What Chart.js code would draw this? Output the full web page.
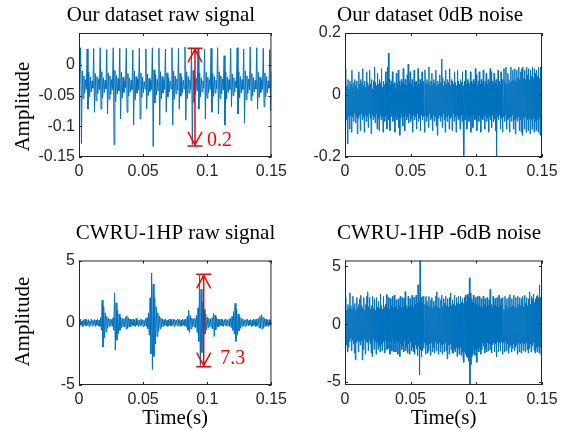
<!DOCTYPE html>
<html>
<head>
<meta charset="utf-8">
<script src="https://cdn.jsdelivr.net/npm/chart.js@4.4.1/dist/chart.umd.min.js"></script>
<style>
  body { margin: 0; background: #fff; }
  #wrap { position: relative; width: 574px; height: 430px; overflow: hidden; }
  canvas { position: absolute; }
</style>
</head>
<body>
<div id="wrap">
  <canvas id="c1" width="292" height="200" style="left:0;top:0"></canvas>
  <canvas id="c2" width="282" height="200" style="left:292px;top:0"></canvas>
  <canvas id="c3" width="292" height="215" style="left:0;top:215px"></canvas>
  <canvas id="c4" width="282" height="215" style="left:292px;top:215px"></canvas>
</div>
<script>
// ---- data ----
const timeSpan = 0.15;
const xTicks = [0, 0.05, 0.1, 0.15];
const ourRawTicks = [-0.15, -0.1, -0.05, 0];
const ourNoiseTicks = [-0.2, 0, 0.2];
const cwruTicks = [-5, 0, 5];

// our dataset, raw signal (impulse every ~5 ms)
const ourRaw = [
  -0.030, -0.020,
  0.028, -0.128, -0.010, -0.055, -0.018, -0.046, -0.024, -0.040,
  0.026, -0.072, -0.012, -0.052, -0.020, -0.044, -0.026, -0.038,
  0.027, -0.077, -0.014, -0.058, -0.019, -0.047, -0.023, -0.041,
  0.028, -0.072, -0.011, -0.053, -0.021, -0.045, -0.025, -0.039,
  0.025, -0.080, -0.013, -0.056, -0.018, -0.048, -0.024, -0.040,
  0.028, -0.130, -0.009, -0.060, -0.017, -0.047, -0.022, -0.042,
  0.027, -0.088, -0.012, -0.054, -0.020, -0.045, -0.026, -0.038,
  0.027, -0.077, -0.014, -0.051, -0.021, -0.044, -0.025, -0.040,
  0.024, -0.098, -0.010, -0.057, -0.019, -0.046, -0.023, -0.041,
  0.027, -0.088, -0.013, -0.053, -0.020, -0.045, -0.027, -0.039,
  0.026, -0.072, -0.015, -0.050, -0.022, -0.043, -0.025, -0.040,
  0.028, -0.133, -0.008, -0.062, -0.016, -0.049, -0.023, -0.042,
  0.027, -0.098, -0.011, -0.055, -0.019, -0.046, -0.024, -0.040,
  0.026, -0.077, -0.013, -0.052, -0.021, -0.044, -0.026, -0.039,
  0.028, -0.098, -0.010, -0.056, -0.018, -0.047, -0.023, -0.041,
  0.027, -0.072, -0.014, -0.051, -0.020, -0.045, -0.025, -0.039,
  0.029, -0.090, -0.011, -0.055, -0.019, -0.046, -0.024, -0.040,
  0.028, -0.130, -0.009, -0.061, -0.017, -0.048, -0.022, -0.042,
  0.027, -0.072, -0.013, -0.052, -0.021, -0.044, -0.026, -0.038,
  0.026, -0.088, -0.012, -0.054, -0.020, -0.045, -0.024, -0.040,
  0.027, -0.077, -0.014, -0.051, -0.019, -0.046, -0.025, -0.039,
  0.028, -0.080, -0.011, -0.055, -0.018, -0.047, -0.023, -0.041,
  0.015, -0.098, -0.012, -0.056, -0.020, -0.045, -0.024, -0.040,
  0.027, -0.068, -0.015, -0.050, -0.021, -0.044, -0.026, -0.038,
  0.028, -0.080, -0.011, -0.054, -0.019, -0.046, -0.024, -0.040,
  0.026, -0.095, -0.010, -0.057, -0.018, -0.047, -0.023, -0.041,
  0.029, -0.058, -0.014, -0.050, -0.021, -0.044, -0.025, -0.039,
  0.028, -0.072, -0.012, -0.053, -0.020, -0.045, -0.024, -0.040,
  0.027, -0.068, -0.013, -0.052, -0.019, -0.046, -0.026, -0.038,
  0.025, -0.075, -0.012
];

// our dataset, 0 dB noise
const ourNoise = [
  0.085, -0.05, 0.04, -0.08, 0.03, -0.158, 0.05, -0.07, 0.02, -0.11,
  0.045, -0.065, 0.035, -0.12, 0.08, -0.07, 0.025, -0.085, 0.04, -0.06,
  0.05, -0.09, 0.03, -0.07, 0.045, -0.126, 0.02, -0.075, 0.075, -0.065,
  0.035, -0.115, 0.05, -0.06, 0.04, -0.08, 0.085, -0.07, 0.03, -0.12,
  0.045, -0.065, 0.025, -0.085, 0.075, -0.07, 0.04, -0.105, 0.03, -0.06,
  0.08, -0.075, 0.035, -0.125, 0.05, -0.065, 0.02, -0.08, 0.045, -0.07,
  0.09, -0.09, 0.04, -0.06, 0.03, -0.11, 0.07, -0.075, 0.035, -0.115,
  0.05, -0.065, 0.04, -0.08, 0.085, -0.07, 0.025, -0.12, 0.045, -0.06,
  0.035, -0.085, 0.075, -0.07, 0.04, -0.11, 0.09, -0.065, 0.135, -0.08,
  0.05, -0.115, 0.03, -0.07, 0.045, -0.06, 0.075, -0.085, 0.035, -0.075,
  0.04, -0.12, 0.025, -0.065, 0.07, -0.08, 0.035, -0.07, 0.08, -0.105,
  0.045, -0.13, 0.03, -0.075, 0.05, -0.06, 0.04, -0.1, 0.085, -0.07,
  0.035, -0.115, 0.05, -0.065, 0.03, -0.08, 0.065, -0.07, 0.1, -0.09,
  0.04, -0.06, 0.075, -0.085, 0.035, -0.075, 0.05, -0.12, 0.025, -0.065,
  0.08, -0.08, 0.04, -0.07, 0.045, -0.11, 0.03, -0.06, 0.085, -0.085,
  0.035, -0.075, 0.05, -0.115, 0.04, -0.065, 0.075, -0.08, 0.03, -0.07,
  0.045, -0.12, 0.08, -0.065, 0.035, -0.085, 0.05, -0.07, 0.04, -0.105,
  0.09, -0.06, 0.03, -0.08, 0.045, -0.075, 0.07, -0.115, 0.035, -0.065,
  0.05, -0.085, 0.04, -0.07, 0.08, -0.1, 0.03, -0.13, 0.045, -0.075,
  0.035, -0.065, 0.065, -0.085, 0.04, -0.07, 0.116, -0.105, 0.055, -0.06,
  0.03, -0.08, 0.045, -0.12, 0.08, -0.07, 0.035, -0.085, 0.05, -0.065,
  0.04, -0.11, 0.085, -0.075, 0.03, -0.07, 0.05, -0.115, 0.045, -0.06,
  0.035, -0.085, 0.075, -0.07, 0.04, -0.12, 0.03, -0.065, 0.08, -0.08,
  0.045, -0.075, 0.035, -0.11, 0.05, -0.065, 0.04, -0.085, 0.075, -0.07,
  0.03, -0.195, 0.045, -0.08, 0.08, -0.07, 0.035, -0.11, 0.05, -0.065,
  0.04, -0.085, 0.03, -0.075, 0.075, -0.12, 0.045, -0.07, 0.035, -0.105,
  0.05, -0.065, 0.04, -0.08, 0.085, -0.075, 0.065, -0.115, 0.03, -0.07,
  0.045, -0.085, 0.075, -0.065, 0.035, -0.12, 0.05, -0.075, 0.04, -0.08,
  0.08, -0.07, 0.03, -0.11, 0.045, -0.065, 0.07, -0.085, 0.035, -0.075,
  0.05, -0.12, 0.04, -0.07, 0.085, -0.08, 0.075, -0.105, 0.045, -0.065,
  0.035, -0.085, 0.07, -0.075, 0.04, -0.115, 0.05, -0.2, 0.03, -0.07,
  0.08, -0.08, 0.045, -0.065, 0.035, -0.11, 0.075, -0.075, 0.05, -0.12,
  0.04, -0.07, 0.085, -0.085, 0.045, -0.065, 0.09, -0.11, 0.035, -0.08,
  0.07, -0.075, 0.05, -0.12, 0.04, -0.07, 0.09, -0.085, 0.045, -0.065,
  0.08, -0.11, 0.05, -0.08, 0.085, -0.125, 0.045, -0.075, 0.08, -0.085,
  0.055, -0.07, 0.09, -0.115, 0.05, -0.08, 0.075, -0.12, 0.085, -0.13,
  0.09, -0.075, 0.055, -0.11, 0.08, -0.07, 0.05, -0.12, 0.09, -0.08,
  0.065, -0.115, 0.085, -0.075, 0.05, -0.125, 0.08, -0.08, 0.06, -0.11,
  0.09, -0.075, 0.055, -0.12, 0.085, -0.085, 0.07, -0.115, 0.08, -0.08,
  0.06, -0.12, 0.09, -0.075, 0.055, -0.13, 0.09, -0.085, 0.07, -0.14
];

// CWRU 1HP, raw signal (bursts)
const cwruRaw = [
  0.2, -0.25, 0.3, -0.2, 0.15, -0.3, 0.25, -0.15, 0.3, -0.25,
  0.2, -0.2, 0.25, -0.3, 0.15, -0.2, 0.3, -0.25, 0.2, -0.15,
  0.25, -0.3, 0.2, -0.2, 0.3, -0.25,
  0.2, -0.3, 0.4, -0.6, 1.8, -1.95, 1.3, -1.2, 0.8, -0.75, 0.5, -0.45, 0.35, -0.3,
  0.3, -0.25, 0.25, -0.3, 0.4, -0.6,
  2.4, -2.2, 1.6, -1.4, 1.0, -0.9, 0.7, -0.6, 0.45, -0.4, 0.35, -0.3,
  0.3, -0.35, 0.45, -0.5, 0.55, -0.45, 0.4, -0.35, 0.3, -0.3, 0.25, -0.2,
  0.3, -0.25, 0.2, -0.3, 0.35, -0.2, 0.25, -0.3, 0.2, -0.25,
  0.3, -0.2, 0.25, -0.3, 0.2, -0.25, 0.35, -0.3, 0.4, -0.5,
  0.8, -1.0, 2.0, -2.5, 4.0, -3.75, 3.1, -2.7, 2.0, -1.7,
  1.3, -1.1, 0.8, -0.7, 0.55, -0.5, 0.4, -0.35, 0.3, -0.3,
  0.25, -0.2, 0.3, -0.25, 0.2, -0.3, 0.25, -0.2, 0.3, -0.25,
  0.2, -0.2, 0.3, -0.3, 0.25, -0.2, 0.2, -0.25, 0.3, -0.2,
  0.25, -0.3, 0.2, -0.25, 0.3, -0.2, 0.25, -0.25, 0.3, -0.35,
  0.5, -0.6, 1.0, -0.8, 0.6, -0.5, 0.4, -0.35, 0.3, -0.3,
  0.35, -0.4, 0.6, -0.8, 1.2, -1.5,
  3.8, -3.55, 2.7, -2.4, 1.7, -1.5, 1.1, -0.9, 0.7, -0.6, 0.45, -0.4,
  0.35, -0.3, 0.3, -0.35, 0.4, -0.5,
  0.75, -1.1, 0.6, -0.55, 0.4, -0.35, 0.3, -0.3,
  0.25, -0.2, 0.3, -0.25, 0.2, -0.3, 0.25, -0.2, 0.3, -0.25,
  0.2, -0.25, 0.3, -0.3, 0.35, -0.4, 0.5, -0.6,
  0.9, -0.9, 1.55, -1.5, 1.1, -1.0, 0.7, -0.65, 0.5, -0.45, 0.35, -0.3,
  0.3, -0.25, 0.2, -0.3, 0.25, -0.2, 0.3, -0.25, 0.2, -0.2,
  0.25, -0.3, 0.2, -0.25, 0.3, -0.2, 0.25, -0.3, 0.3, -0.25, 0.35, -0.4,
  0.5, -0.45, 0.65, -0.5, 0.45, -0.4, 0.35, -0.3,
  0.3, -0.25, 0.2, -0.3, 0.25, -0.2, 0.2, -0.15
];

// CWRU 1HP, -6 dB noise
const cwruNoise = [
  1.5, -1.3, 2.3, -1.8, 1.2, -2.4, 1.7, -2.0, 1.4, -1.5,
  2.7, -1.2, 1.6, -2.3, 1.3, -1.4, 2.4, -1.7, 1.5, -2.5,
  1.8, -3.1, 1.2, -1.6, 2.3, -1.4, 1.4, -2.4, 1.7, -1.5,
  2.2, -1.8, 2.5, -1.4, 1.6, -3.1, 1.4, -2.2, 2.3, -1.3,
  1.2, -2.6, 1.7, -1.5, 2.4, -1.6, 2.8, -2.3, 1.5, -1.4,
  2.3, -1.7, 1.3, -2.5, 1.6, -2.8, 2.4, -1.3, 1.4, -2.2,
  2.2, -1.5, 1.2, -2.6, 2.3, -1.6, 1.5, -2.2, 2.0, -1.9,
  1.4, -2.4, 2.6, -1.7, 1.6, -2.3, 1.3, -1.5, 2.4, -1.6,
  1.5, -2.5, 1.7, -1.4, 2.55, -2.2, 1.4, -2.1, 2.3, -1.5,
  1.3, -2.6, 2.2, -1.5, 1.6, -2.3, 2.4, -1.3, 1.4, -2.4,
  2.5, -1.6, 1.5, -2.4, 2.1, -1.4, 1.3, -2.6, 2.2, -1.5,
  1.6, -2.8, 2.4, -1.7, 1.4, -2.2, 2.3, -1.9, 1.5, -2.4,
  2.2, -1.4, 2.8, -2.3, 1.6, -2.0, 1.4, -2.5, 2.4, -1.7,
  1.5, -2.6, 2.2, -1.5, 1.6, -2.3, 2.5, -2.0, 1.4, -2.4,
  2.3, -2.6, 1.7, -1.8, 2.5, -2.1, 1.8, -2.7, 3.4, -1.9,
  2.0, -4.4, 5.5, -2.2, 2.3, -2.8, 1.8, -2.3, 2.4, -2.1,
  2.2, -1.6, 1.7, -2.6, 2.4, -1.8, 2.0, -2.5, 1.6, -2.3,
  2.4, -1.7, 1.5, -2.7, 2.1, -1.6, 2.3, -2.4, 1.4, -2.0,
  2.0, -2.5, 1.6, -1.5, 2.4, -2.3, 2.8, -1.7, 1.5, -2.6,
  2.3, -1.6, 1.4, -2.4, 2.1, -1.8, 2.5, -2.6, 1.5, -1.7,
  2.2, -2.4, 1.8, -1.6, 2.4, -2.3, 1.6, -3.0, 2.2, -1.8,
  1.5, -2.6, 2.3, -1.7, 2.7, -2.2, 1.6, -2.5, 2.1, -2.5,
  1.7, -2.2, 2.5, -2.4, 1.6, -2.0, 2.3, -2.8, 1.8, -2.1,
  2.4, -2.6, 1.7, -2.0, 2.4, -2.7, 1.9, -2.4, 2.2, -2.9,
  1.8, -3.3, 2.3, -2.4, 2.5, -2.6, 1.9, -2.8, 2.6, -2.9,
  2.3, -3.2, 4.0, -5.26, 2.7, -3.5, 2.2, -2.8, 1.9, -2.6,
  2.5, -2.0, 1.8, -2.7, 2.3, -2.2, 1.7, -3.3, 2.4, -2.1,
  1.6, -2.4, 2.4, -2.0, 1.5, -2.6, 2.2, -2.2, 1.4, -1.6,
  2.4, -1.9, 1.7, -2.5, 2.2, -2.1, 1.5, -2.4, 2.3, -1.6,
  1.6, -2.3, 2.1, -1.7, 3.0, -2.2, 1.7, -2.5, 1.4, -1.8,
  2.4, -1.6, 1.6, -2.4, 2.2, -1.7, 1.5, -2.8, 2.3, -1.5,
  1.4, -2.4, 2.5, -1.6, 1.6, -2.3, 2.2, -1.5, 1.5, -2.6,
  2.3, -1.6, 1.3, -2.4, 2.4, -1.5, 1.6, -2.3, 2.2, -1.7,
  1.4, -2.5, 2.3, -2.0, 2.55, -1.8, 1.5, -2.4, 2.2, -2.1,
  1.6, -1.7, 2.5, -2.3, 1.5, -2.0, 2.3, -1.8, 1.4, -2.6,
  2.4, -1.6, 1.7, -2.4, 2.3, -1.7, 1.6, -2.5, 2.2, -1.6,
  2.4, -2.3, 1.5, -1.7, 2.5, -2.4, 1.8, -1.6, 2.3, -2.2,
  1.6, -2.5, 2.2, -2.1, 2.8, -1.7, 1.7, -2.4, 2.4, -1.9,
  2.2, -1.6, 2.6, -2.3, 1.9, -2.5, 2.2, -2.0, 2.4, -2.4,
  2.5, -1.9, 2.3, -2.5, 3.4, -2.0, 2.3, -2.7, 1.9, -2.6
];

// peak-to-peak markers: [time, top, bottom]
const ourRawSpan = [0.0904, 0.027, -0.132];
const cwruRawSpan = [0.0972, 3.89, -3.53];

const serif = "'Liberation Serif', 'Times New Roman', serif";
const sans = "'Liberation Sans', Arial, Helvetica, sans-serif";
const lineBlue = '#0072BD';
const axisGrey = '#262626';

function fmt(v) {
  return String(+Number(v).toFixed(3));
}

function makePanel(id, values, p) {
  const n = values.length;
  const points = values.map((v, i) => ({ x: i * timeSpan / (n - 1), y: v }));

  const decor = {
    id: 'decor',
    afterDraw(chart) {
      const { ctx, chartArea: a } = chart;
      const xs = chart.scales.x, ys = chart.scales.y;
      ctx.save();

      // axes box with inward ticks on all four sides
      ctx.strokeStyle = axisGrey;
      ctx.lineWidth = 1;
      ctx.strokeRect(a.left + 0.5, a.top + 0.5, a.width - 1, a.height - 1);
      ctx.beginPath();
      xs.ticks.forEach(t => {
        const x = Math.round(xs.getPixelForValue(t.value)) + 0.5;
        ctx.moveTo(x, a.bottom); ctx.lineTo(x, a.bottom - 3);
        ctx.moveTo(x, a.top); ctx.lineTo(x, a.top + 3);
      });
      ys.ticks.forEach(t => {
        const y = Math.round(ys.getPixelForValue(t.value)) + 0.5;
        ctx.moveTo(a.left, y); ctx.lineTo(a.left + 3, y);
        ctx.moveTo(a.right, y); ctx.lineTo(a.right - 3, y);
      });
      ctx.stroke();

      // panel title and y label
      ctx.fillStyle = '#000';
      ctx.font = '21px ' + serif;
      ctx.textAlign = 'center';
      ctx.textBaseline = 'alphabetic';
      ctx.fillText(p.title, p.titleX, p.titleY);
      if (p.ylabel) {
        ctx.save();
        ctx.translate(28.5, 106.7);
        ctx.rotate(-Math.PI / 2);
        ctx.fillText(p.ylabel, 0, 0);
        ctx.restore();
      }

      // red peak-to-peak arrow
      if (p.span) {
        const [t, hi, lo] = p.span;
        const x = xs.getPixelForValue(t);
        const y1 = ys.getPixelForValue(hi);
        const y2 = ys.getPixelForValue(lo);
        ctx.strokeStyle = '#ff0000';
        ctx.lineWidth = 1.5;
        ctx.beginPath();
        ctx.moveTo(x, y1); ctx.lineTo(x, y2);
        ctx.moveTo(x - 7.5, y1); ctx.lineTo(x + 7.5, y1);
        ctx.moveTo(x - 7.5, y2); ctx.lineTo(x + 7.5, y2);
        ctx.moveTo(x - 7, y1 + 14); ctx.lineTo(x, y1 + 1); ctx.lineTo(x + 7, y1 + 14);
        ctx.moveTo(x - 7, y2 - 14); ctx.lineTo(x, y2 - 1); ctx.lineTo(x + 7, y2 - 14);
        ctx.stroke();
        ctx.fillStyle = '#ff0000';
        ctx.font = '20px ' + serif;
        ctx.textAlign = 'left';
        ctx.fillText(p.spanLabel, x + p.spanDx, y2 + p.spanDy);
      }
      ctx.restore();
    }
  };

  return new Chart(document.getElementById(id), {
    type: 'line',
    data: {
      datasets: [{
        data: points,
        borderColor: lineBlue,
        borderWidth: 1,
        pointRadius: 0,
        fill: false,
        tension: 0
      }]
    },
    options: {
      responsive: false,
      animation: false,
      events: [],
      layout: { padding: { left: 0, top: p.top, right: p.right, bottom: 0 } },
      plugins: { legend: { display: false }, tooltip: { enabled: false } },
      scales: {
        x: {
          type: 'linear',
          min: 0,
          max: timeSpan,
          afterFit: s => { s.height = p.xh; },
          afterBuildTicks: s => { s.ticks = xTicks.map(v => ({ value: v })); },
          grid: { display: false, drawTicks: false },
          border: { display: false },
          ticks: {
            font: { family: sans, size: 16 },
            color: axisGrey,
            padding: 5,
            maxRotation: 0,
            autoSkip: false,
            callback: fmt
          },
          title: {
            display: !!p.xlabel,
            text: p.xlabel || '',
            color: '#000',
            font: { family: serif, size: 21, lineHeight: 1 },
            padding: { top: 0, bottom: 1 }
          }
        },
        y: {
          type: 'linear',
          min: p.ymin,
          max: p.ymax,
          afterFit: s => { s.width = p.yw; },
          afterBuildTicks: s => { s.ticks = p.yTicks.map(v => ({ value: v })); },
          grid: { display: false, drawTicks: false },
          border: { display: false },
          ticks: {
            font: { family: sans, size: 16 },
            color: axisGrey,
            padding: 4,
            autoSkip: false,
            callback: fmt
          }
        }
      }
    },
    plugins: [decor]
  });
}

makePanel('c1', ourRaw, {
  title: 'Our dataset raw signal', titleX: 161, titleY: 20.5,
  ylabel: 'Amplitude',
  top: 33, right: 16, yw: 79, xh: 43,
  ymin: -0.15, ymax: 0.052, yTicks: ourRawTicks,
  span: ourRawSpan, spanLabel: '0.2', spanDx: 12, spanDy: 0
});

makePanel('c2', ourNoise, {
  title: 'Our dataset 0dB noise', titleX: 138, titleY: 20.5,
  top: 33, right: 32, yw: 53, xh: 43,
  ymin: -0.2, ymax: 0.2, yTicks: ourNoiseTicks
});

makePanel('c3', cwruRaw, {
  title: 'CWRU-1HP raw signal', titleX: 175.5, titleY: 24,
  ylabel: 'Amplitude', xlabel: 'Time(s)',
  top: 45.5, right: 17, yw: 79, xh: 45,
  ymin: -5, ymax: 5, yTicks: cwruTicks,
  span: cwruRawSpan, spanLabel: '7.3', spanDx: 16.5, spanDy: -3
});

makePanel('c4', cwruNoise, {
  title: 'CWRU-1HP -6dB noise', titleX: 147, titleY: 24,
  xlabel: 'Time(s)',
  top: 45.5, right: 32, yw: 53, xh: 45,
  ymin: -5.26, ymax: 5.5, yTicks: cwruTicks
});
</script>
</body>
</html>
